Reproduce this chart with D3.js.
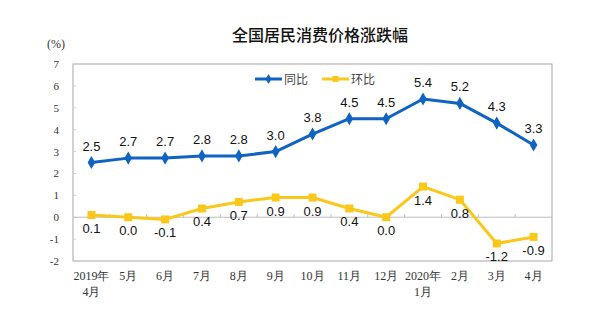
<!DOCTYPE html>
<meta charset="utf-8">
<script src="https://d3js.org/d3.v7.min.js"></script>
<style>
body{margin:0;background:#fff;}
</style>
<div id="chart"></div>
<script>

// months (two-line labels)
var months = ["2019年|4月","5月","6月","7月","8月","9月","10月","11月","12月","2020年|1月","2月","3月","4月"]
var yoy = [2.5,2.7,2.7,2.8,2.8,3.0,3.8,4.5,4.5,5.4,5.2,4.3,3.3]   // 同比
var mom = [0.1,0.0,-0.1,0.4,0.7,0.9,0.9,0.4,0.0,1.4,0.8,-1.2,-0.9] // 环比
var yTicks = [7,6,5,4,3,2,1,0,-1,-2]

var blue = "#0f63c3"
var yellow = "#f9c81a"

var width = 616, height = 328
var pLeft = 73, pRight = 552, pTop = 64, pBottom = 261

var svg = d3.select("#chart").append("svg").attr("width",width).attr("height",height)

var x = d3.scaleBand().domain(d3.range(months.length)).range([pLeft,pRight])
var y = d3.scaleLinear().domain([-2,7]).range([pBottom,pTop])
var cx = function(i){return x(i)+x.bandwidth()/2}

// title
svg.append("text").text("全国居民消费价格涨跌幅")
	.attr("x",320).attr("y",41)
	.attr("text-anchor","middle")
	.style("font-family","Noto Sans CJK SC").style("font-size","16px").style("font-weight","500")
	.attr("fill","#111")

svg.append("text").text("(%)")
	.attr("x",56).attr("y",48).attr("text-anchor","middle")
	.style("font-family","Liberation Serif").style("font-size","12px").attr("fill","#333")

// frame
svg.append("rect").attr("x",pLeft).attr("y",pTop).attr("width",pRight-pLeft).attr("height",pBottom-pTop)
	.attr("fill","none").attr("stroke","#a6a6a6").attr("stroke-width",1)

// y axis labels + small ticks
svg.selectAll(".ylab").data(yTicks).enter().append("text")
	.text(function(d){return d})
	.attr("x",59).attr("y",function(d){return y(d)+4})
	.attr("text-anchor","end")
	.style("font-family","Liberation Serif").style("font-size","11px").attr("fill","#333")
svg.selectAll(".ytick").data(yTicks).enter().append("line")
	.attr("x1",pLeft).attr("x2",pLeft+3)
	.attr("y1",function(d){return y(d)}).attr("y2",function(d){return y(d)})
	.attr("stroke","#d0d0d0")

// zero line with ticks at band edges
svg.append("line").attr("x1",pLeft).attr("x2",pRight).attr("y1",y(0)).attr("y2",y(0))
	.attr("stroke","#bdbdbd").attr("stroke-width",1)
svg.selectAll(".xtick").data(d3.range(1,months.length)).enter().append("line")
	.attr("x1",function(d){return x(d)}).attr("x2",function(d){return x(d)})
	.attr("y1",y(0)).attr("y2",y(0)-3)
	.attr("stroke","#bdbdbd")

// x labels
months.forEach(function(m,i){
	var parts = m.split("|")
	parts.forEach(function(p,j){
		svg.append("text").text(p)
			.attr("x",cx(i)).attr("y",280+j*16)
			.attr("text-anchor","middle")
			.style("font-family","Liberation Serif").style("font-size","12px").attr("fill","#333")
	})
})

var line = d3.line().x(function(d,i){return cx(i)}).y(function(d){return y(d)})

// 环比
svg.append("path").datum(mom).attr("d",line)
	.attr("fill","none").attr("stroke",yellow).attr("stroke-width",3).attr("stroke-linejoin","round")
svg.selectAll(".momPt").data(mom).enter().append("rect")
	.attr("x",function(d,i){return cx(i)-4}).attr("y",function(d){return y(d)-4})
	.attr("width",8).attr("height",8).attr("fill",yellow)

// 同比
svg.append("path").datum(yoy).attr("d",line)
	.attr("fill","none").attr("stroke",blue).attr("stroke-width",3).attr("stroke-linejoin","round")
svg.selectAll(".yoyPt").data(yoy).enter().append("path")
	.attr("d",d3.symbol().type(d3.symbolDiamond).size(50))
	.attr("transform",function(d,i){return "translate("+cx(i)+","+y(d)+")"})
	.attr("fill",blue)

// value labels
svg.selectAll(".yoyLab").data(yoy).enter().append("text")
	.text(function(d){return d.toFixed(1)})
	.attr("x",function(d,i){return cx(i)}).attr("y",function(d){return y(d)-12})
	.attr("text-anchor","middle")
	.style("font-family","Liberation Sans").style("font-size","13px").attr("fill","#111")
svg.selectAll(".momLab").data(mom).enter().append("text")
	.text(function(d){return d.toFixed(1)})
	.attr("x",function(d,i){return cx(i)}).attr("y",function(d){return y(d)+18})
	.attr("text-anchor","middle")
	.style("font-family","Liberation Sans").style("font-size","13px").attr("fill","#111")

// legend
var legend = [["同比",blue,"diamond",255],["环比",yellow,"square",322]]
legend.forEach(function(l){
	var lx = l[3], ly = 79
	svg.append("line").attr("x1",lx).attr("x2",lx+27).attr("y1",ly).attr("y2",ly)
		.attr("stroke",l[1]).attr("stroke-width",3)
	if(l[2]=="diamond"){
		svg.append("path").attr("d",d3.symbol().type(d3.symbolDiamond).size(30))
			.attr("transform","translate("+(lx+13.5)+","+ly+")").attr("fill",l[1])
	}else{
		svg.append("rect").attr("x",lx+10.5).attr("y",ly-3).attr("width",6).attr("height",6).attr("fill",l[1])
	}
	svg.append("text").text(l[0]).attr("x",lx+29).attr("y",ly+4.5)
		.style("font-family","Noto Sans CJK SC").style("font-size","12px").attr("fill","#444")
})

</script>
